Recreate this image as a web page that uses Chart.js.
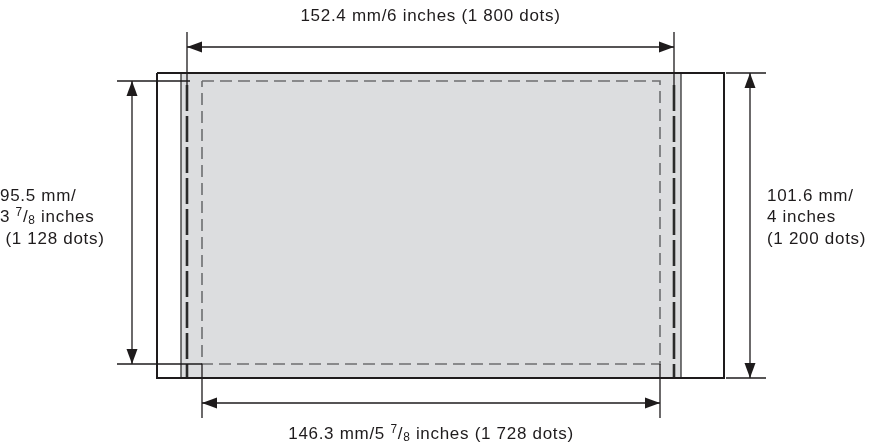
<!DOCTYPE html>
<html>
<head>
<meta charset="utf-8">
<script src="https://cdn.jsdelivr.net/npm/chart.js@4/dist/chart.umd.min.js"></script>
<style>
  html, body { margin: 0; padding: 0; background: #fff; }
  #wrap { width: 876px; height: 448px; }
</style>
</head>
<body>
<div id="wrap"><canvas id="c" width="876" height="448"></canvas></div>
<script>
// drawing units = picture pixels
const paperX = [157, 724]      // outer sheet
const paperY = [73, 378]
const shadeX = [181, 681]      // grey band
const printX = [202, 660]      // dashed printable area
const printY = [81, 364]
const fullX = [187, 674]       // 152.4 mm edges (long dashes)

const arrowTopY = 47
const arrowBottomY = 403
const arrowLeftX = 132
const arrowRightX = 750

const topLabel = ['152.4 mm/6 inches (1 800 dots)']
const bottomLabel = ['146.3 mm/5 {7/8} inches (1 728 dots)']
const leftLabel = ['95.5 mm/', '3 {7/8} inches', ' (1 128 dots)']
const rightLabel = ['101.6 mm/', '4 inches', '(1 200 dots)']

const INK = '#1e1b1c'
const FONT = '"Liberation Sans", Arial, sans-serif'

function seg(x1, y1, x2, y2, extra) {
  return Object.assign({
    data: [{x: x1, y: y1}, {x: x2, y: y2}],
    showLine: true,
    borderColor: INK,
    borderWidth: 1.3,
    pointRadius: 0,
    fill: false
  }, extra || {})
}

function rect(xs, ys, extra) {
  return Object.assign({
    data: [
      {x: xs[0], y: ys[0]}, {x: xs[1], y: ys[0]},
      {x: xs[1], y: ys[1]}, {x: xs[0], y: ys[1]}, {x: xs[0], y: ys[0]}
    ],
    showLine: true,
    borderColor: INK,
    borderWidth: 2,
    pointRadius: 0,
    fill: false
  }, extra || {})
}

const datasets = [
  // grey band
  rect(shadeX, paperY, {fill: 'shape', backgroundColor: '#dcdddf', borderColor: '#333', borderWidth: 1.3}),
  // printable area
  rect(printX, printY, {borderColor: '#6d6e70', borderWidth: 1.6, borderDash: [12, 6]}),
  // 152.4 mm edges
  seg(fullX[0], printY[0] + 4, fullX[0], paperY[1], {borderWidth: 2.6, borderDash: [26, 5], borderColor: '#2a2a2a'}),
  seg(fullX[1], printY[0] + 4, fullX[1], paperY[1], {borderWidth: 2.6, borderDash: [26, 5], borderColor: '#2a2a2a'}),
  // sheet
  rect(paperX, paperY),
  // extension lines
  seg(fullX[0], 32, fullX[0], printY[0] + 4),
  seg(fullX[1], 32, fullX[1], printY[0] + 4),
  seg(printX[0], printY[1], printX[0], 418),
  seg(printX[1], printY[1], printX[1], 418),
  seg(117, printY[0], printX[0] - 12, printY[0]),
  seg(117, printY[1], printX[0], printY[1]),
  seg(paperX[1] + 2, paperY[0], 766, paperY[0]),
  seg(paperX[1] + 2, paperY[1], 766, paperY[1]),
  // dimension arrows
  seg(fullX[0], arrowTopY, fullX[1], arrowTopY, {arrow: true}),
  seg(printX[0], arrowBottomY, printX[1], arrowBottomY, {arrow: true}),
  seg(arrowLeftX, printY[0], arrowLeftX, printY[1], {arrow: true}),
  seg(arrowRightX, paperY[0], arrowRightX, paperY[1], {arrow: true})
]
// chart.js paints higher order first, so the list above goes bottom to top
datasets.forEach((d, i) => { d.order = datasets.length - i })

// filled arrowheads at both ends of every dimension line
const arrowHeads = {
  id: 'arrowHeads',
  afterDatasetsDraw(chart) {
    const ctx = chart.ctx
    const sx = chart.scales.x, sy = chart.scales.y
    chart.data.datasets.forEach(ds => {
      if (!ds.arrow) return
      const a = ds.data[0], b = ds.data[1]
      const p = [sx.getPixelForValue(a.x), sy.getPixelForValue(a.y)]
      const q = [sx.getPixelForValue(b.x), sy.getPixelForValue(b.y)]
      head(ctx, q, p)
      head(ctx, p, q)
    })
  }
}

function head(ctx, from, tip) {
  const len = 15, half = 5.5
  const dx = tip[0] - from[0], dy = tip[1] - from[1]
  const d = Math.hypot(dx, dy)
  const ux = dx / d, uy = dy / d
  const bx = tip[0] - ux * len, by = tip[1] - uy * len
  ctx.save()
  ctx.fillStyle = INK
  ctx.beginPath()
  ctx.moveTo(tip[0], tip[1])
  ctx.lineTo(bx - uy * half, by + ux * half)
  ctx.lineTo(bx + uy * half, by - ux * half)
  ctx.closePath()
  ctx.fill()
  ctx.restore()
}

// text with a {n/d} stacked fraction
function runs(text) {
  const out = []
  const re = /\{(\d+)\/(\d+)\}/g
  let last = 0, m
  while ((m = re.exec(text))) {
    out.push({t: text.slice(last, m.index)})
    out.push({t: m[1], sup: true})
    out.push({t: '/'})
    out.push({t: m[2], sub: true})
    last = re.lastIndex
  }
  out.push({t: text.slice(last)})
  return out
}

function richWidth(ctx, text, size) {
  return runs(text).reduce((w, r) => {
    ctx.font = ((r.sup || r.sub) ? size * 0.7 : size) + 'px ' + FONT
    return w + ctx.measureText(r.t).width
  }, 0)
}

function richText(ctx, text, x, y, size, align) {
  let cx = align === 'center' ? x - richWidth(ctx, text, size) / 2 : x
  ctx.textBaseline = 'alphabetic'
  ctx.textAlign = 'left'
  runs(text).forEach(r => {
    let dy = 0, s = size
    if (r.sup) { s = size * 0.7; dy = -size * 0.33 }
    if (r.sub) { s = size * 0.7; dy = size * 0.12 }
    ctx.font = s + 'px ' + FONT
    ctx.fillText(r.t, cx, y + dy)
    cx += ctx.measureText(r.t).width
  })
}

const labels = {
  id: 'labels',
  afterDraw(chart) {
    const ctx = chart.ctx
    const sx = chart.scales.x, sy = chart.scales.y
    const size = 17
    ctx.save()
    ctx.fillStyle = INK
    ctx.letterSpacing = '0.7px'
    const topMid = sx.getPixelForValue((fullX[0] + fullX[1]) / 2)
    topLabel.forEach(t => richText(ctx, t, topMid, sy.getPixelForValue(arrowTopY - 26), size, 'center'))
    const botMid = sx.getPixelForValue((printX[0] + printX[1]) / 2)
    bottomLabel.forEach(t => richText(ctx, t, botMid, sy.getPixelForValue(arrowBottomY + 36), size, 'center'))
    const midY = (printY[0] + printY[1]) / 2
    leftLabel.forEach((t, i) => richText(ctx, t, sx.getPixelForValue(0), sy.getPixelForValue(midY - 22 + i * 21.5), size, 'left'))
    rightLabel.forEach((t, i) => richText(ctx, t, sx.getPixelForValue(767), sy.getPixelForValue(midY - 22 + i * 21.5), size, 'left'))
    ctx.restore()
  }
}

new Chart(document.getElementById('c').getContext('2d'), {
  type: 'scatter',
  data: {datasets: datasets},
  options: {
    responsive: false,
    animation: false,
    layout: {padding: 0},
    plugins: {legend: {display: false}, tooltip: {enabled: false}},
    scales: {
      x: {type: 'linear', min: 0, max: 876, display: false},
      y: {type: 'linear', min: 0, max: 448, reverse: true, display: false}
    }
  },
  plugins: [arrowHeads, labels]
})
</script>
</body>
</html>
